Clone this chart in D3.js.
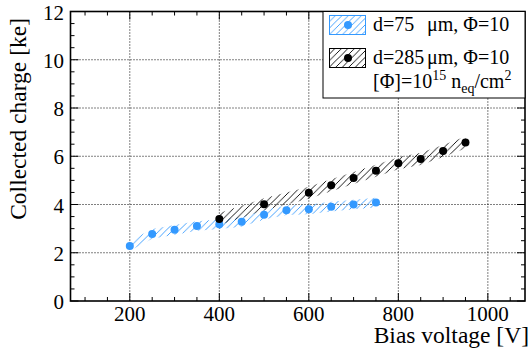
<!DOCTYPE html>
<html><head><meta charset="utf-8">
<script src="https://cdn.jsdelivr.net/npm/d3@7"></script>
<style>
body{margin:0;background:#fff;}
</style></head>
<body><svg id="c" width="531" height="349"></svg>
<script>
// ---- data ----
const thinVoltage = [200,250,300,350,400,450,500,550,600,650,700,750];
const thinCharge  = [2.28,2.78,2.95,3.11,3.18,3.28,3.58,3.76,3.80,3.91,4.00,4.08];
const thinErr     = [0.2,0.2,0.2,0.2,0.2,0.2,0.2,0.2,0.2,0.2,0.2,0.2];
const thickVoltage = [400,500,600,650,700,750,800,850,900,950];
const thickCharge  = [3.40,4.01,4.49,4.80,5.10,5.40,5.71,5.89,6.22,6.57];
const thickErr     = [0.25,0.25,0.25,0.25,0.25,0.25,0.25,0.25,0.25,0.25];
const xTicks = [200,400,600,800,1000];
const yTicks = [0,2,4,6,8,10,12];
const legendLabels = ["d=75", "d=285"];

const FONT = "Liberation Serif";
const svg = d3.select("#c");
const L=70.5, R=525, T=11.5, B=301;
const x = d3.scaleLinear().domain([67.5,1083]).range([L,R]);
const y = d3.scaleLinear().domain([0,12]).range([B,T]);
const blue = "#3399ff";

// patterns
const defs = svg.append("defs");
function hatch(id, color){
  const p = defs.append("pattern").attr("id",id).attr("patternUnits","userSpaceOnUse")
    .attr("width",6.5).attr("height",6.5);
  p.append("path").attr("d","M0,6.5 L6.5,0 M-1,1 L1,-1 M5.5,7.5 L7.5,5.5")
    .attr("stroke",color).attr("stroke-width",0.9).attr("fill","none");
}
hatch("hb", blue); hatch("hk", "#000");

// grid
const g = svg.append("g");
xTicks.forEach(v=>{ g.append("line").attr("x1",x(v)).attr("x2",x(v)).attr("y1",T).attr("y2",B)
  .attr("stroke","#000").attr("stroke-width",1).attr("stroke-dasharray","1,2"); });
yTicks.filter(v=>v>0&&v<12).forEach(v=>{ g.append("line").attr("x1",L).attr("x2",R).attr("y1",y(v)).attr("y2",y(v))
  .attr("stroke","#000").attr("stroke-width",1).attr("stroke-dasharray","1,2"); });

// bands
function band(xs, ys, es, pat){
  const pts = xs.map((v,i)=>[x(v), y(ys[i]+es[i])]).concat(xs.map((v,i)=>[x(v), y(ys[i]-es[i])]).reverse());
  svg.append("path").attr("d", d3.line()(pts)+"Z").attr("fill","url(#"+pat+")").attr("stroke","none");
}
band(thinVoltage, thinCharge, thinErr, "hb");
band(thickVoltage, thickCharge, thickErr, "hk");

// points
svg.append("g").selectAll("circle").data(thinVoltage).join("circle")
  .attr("cx",d=>x(d)).attr("cy",(d,i)=>y(thinCharge[i])).attr("r",4).attr("fill",blue);
svg.append("g").selectAll("circle").data(thickVoltage).join("circle")
  .attr("cx",d=>x(d)).attr("cy",(d,i)=>y(thickCharge[i])).attr("r",4).attr("fill","#000");

// ticks
const tk = svg.append("g").attr("stroke","#000").attr("stroke-width",1);
d3.range(100,1081,50).forEach(v=>{
  const len = (v%200===0)?8:4;
  tk.append("line").attr("x1",x(v)).attr("x2",x(v)).attr("y1",B).attr("y2",B-len);
  tk.append("line").attr("x1",x(v)).attr("x2",x(v)).attr("y1",T).attr("y2",T+len);
});
d3.range(0,12.01,0.5).forEach(v=>{
  const len = (Math.abs(v%2)<1e-6)?8:4;
  tk.append("line").attr("y1",y(v)).attr("y2",y(v)).attr("x1",L).attr("x2",L+len);
  tk.append("line").attr("y1",y(v)).attr("y2",y(v)).attr("x1",R).attr("x2",R-len);
});

// frame
svg.append("rect").attr("x",L).attr("y",T).attr("width",R-L).attr("height",B-T)
  .attr("fill","none").attr("stroke","#000").attr("stroke-width",1.6);

// tick labels
svg.append("g").selectAll("text").data(xTicks).join("text").attr("font-family",FONT)
  .attr("x",d=>x(d)).attr("y",321).attr("text-anchor","middle").attr("font-size",21).text(d=>d);
svg.append("g").selectAll("text").data(yTicks).join("text").attr("font-family",FONT)
  .attr("x",64).attr("y",d=>y(d)+8).attr("text-anchor","end").attr("font-size",21).text(d=>d);

// axis titles
svg.append("text").attr("font-family",FONT).attr("x",529).attr("y",343).attr("text-anchor","end").attr("font-size",23.5).text("Bias voltage [V]");
svg.append("text").attr("font-family",FONT).attr("transform","translate(26,18) rotate(-90)").attr("text-anchor","end").attr("font-size",23.5).text("Collected charge [ke]");

// legend
const lg = svg.append("g");
lg.append("rect").attr("x",323).attr("y",T).attr("width",R-323).attr("height",98-T)
  .attr("fill","#fff").attr("stroke","#000").attr("stroke-width",1);
const sw = [{y:15, pat:"hb", col:blue, ty:31},{y:48, pat:"hk", col:"#000", ty:64}];
sw.forEach((s,i)=>{
  lg.append("rect").attr("x",329.5).attr("y",s.y+0.5).attr("width",36).attr("height",19)
    .attr("fill","url(#"+s.pat+")").attr("stroke",s.col).attr("stroke-width",1);
  lg.append("circle").attr("cx",348).attr("cy",s.y+10).attr("r",4).attr("fill",s.col);
  lg.append("text").attr("font-family",FONT).attr("x",373).attr("y",s.ty).attr("font-size",20).text(legendLabels[i]);
  lg.append("text").attr("font-family",FONT).attr("x",427).attr("y",s.ty).attr("font-size",20).text("μm, Φ=10");
});
const t3 = lg.append("text").attr("font-family",FONT).attr("x",373).attr("y",88).attr("font-size",20);
t3.append("tspan").text("[Φ]=10");
t3.append("tspan").attr("dy",-8).attr("font-size",14).text("15");
t3.append("tspan").attr("dy",8).text(" n");
t3.append("tspan").attr("dy",5).attr("font-size",14).text("eq");
t3.append("tspan").attr("dy",-5).text("/cm");
t3.append("tspan").attr("dy",-8).attr("font-size",14).text("2");
</script></body></html>
